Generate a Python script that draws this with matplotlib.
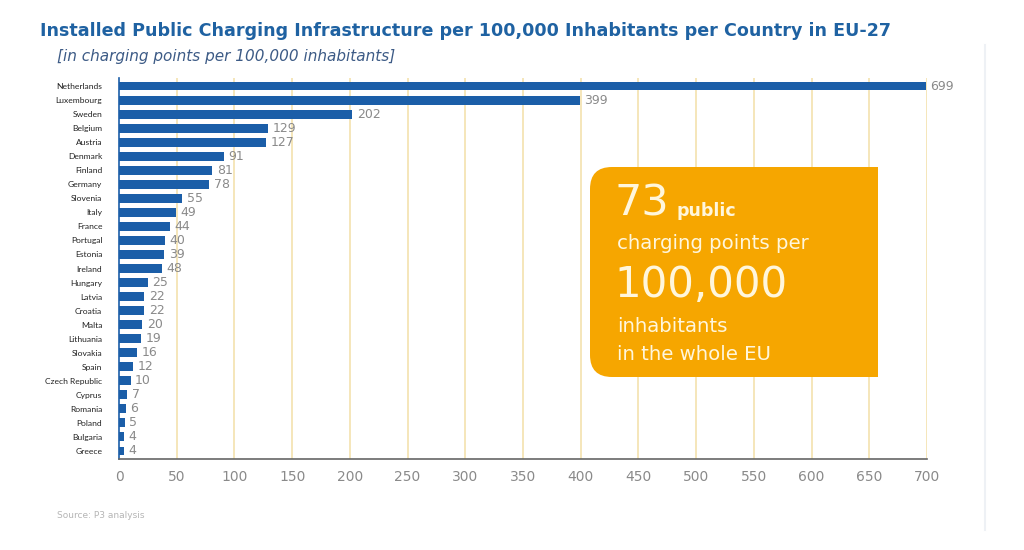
import matplotlib
matplotlib.use("Agg")
import matplotlib.pyplot as plt
from matplotlib.patches import FancyBboxPatch, Rectangle

countries = ["Netherlands", "Luxembourg", "Sweden", "Belgium", "Austria", "Denmark",
             "Finland", "Germany", "Slovenia", "Italy", "France", "Portugal", "Estonia",
             "Ireland", "Hungary", "Latvia", "Croatia", "Malta", "Lithuania", "Slovakia",
             "Spain", "Czech Republic", "Cyprus", "Romania", "Poland", "Bulgaria", "Greece"]
values = [699, 399, 202, 129, 127, 91, 81, 78, 55, 49, 44, 40, 39, 48, 25, 22, 22, 20,
          19, 16, 12, 10, 7, 6, 5, 4, 4]
bar_lengths = [699, 399, 202, 129, 127, 91, 81, 78, 55, 49, 44, 40, 39, 37, 25, 22, 22, 20,
               19, 16, 12, 10, 7, 6, 5, 4, 4]
xticks = list(range(0, 701, 50))

BLUE = "#1b5ea8"
ORANGE = "#f6a600"
GRID = "#f3e2ae"
W, H = 1024, 550

plt.rcParams['font.family'] = ['Lato', 'DejaVu Sans']

fig = plt.figure(figsize=(W / 100, H / 100), dpi=100)
fig.patch.set_facecolor("white")


def fx(px):
    return px / W


def fy(py):
    return 1 - py / H


ax = fig.add_axes([fx(119), fy(459), (927 - 119) / W, (459 - 78) / H])
ypos = list(range(len(countries)))
ax.barh(ypos, bar_lengths, height=0.64, color=BLUE, zorder=3)
for y, v, b in zip(ypos, values, bar_lengths):
    ax.text(b + 4, y, str(v), va="center", ha="left", fontsize=9, color="#8a8a8a", zorder=4,
            family="DejaVu Sans")

ax.set_xlim(0, 700)
ax.set_ylim(len(countries) - 0.43, -0.57)
ax.set_yticks(ypos)
ax.set_yticklabels(countries, fontsize=6.1, color="#222222")
ax.set_xticks(xticks)
ax.set_xticklabels([str(t) for t in xticks], fontsize=10, color="#8a8a8a", family="DejaVu Sans")
ax.tick_params(axis="y", length=0, pad=12)
ax.tick_params(axis="x", length=0, pad=8)
for t in xticks[1:]:
    ax.axvline(t, color=GRID, lw=1.2, zorder=1)
for s in ["top", "right"]:
    ax.spines[s].set_visible(False)
ax.spines["left"].set_color(BLUE)
ax.spines["left"].set_linewidth(1.2)
ax.spines["bottom"].set_color("#666666")
ax.spines["bottom"].set_linewidth(1.2)

fig.text(fx(40), fy(31), "Installed Public Charging Infrastructure per 100,000 Inhabitants per Country in EU-27",
         fontsize=12.6, fontweight="bold", color="#1f62a2", va="center", ha="left", family="DejaVu Sans")
fig.text(fx(57), fy(56), "[in charging points per 100,000 inhabitants]",
         fontsize=11, style="italic", color="#3d5b86", va="center", ha="left", family="DejaVu Sans")
fig.text(fx(57), fy(515), "Source: P3 analysis", fontsize=6.5, color="#b5b5b5", va="center", ha="left",
         family="DejaVu Sans")

# highlight box
bx0, bx1, by0, by1 = 590, 878, 167, 377
r = 22
fig.patches.append(FancyBboxPatch((fx(bx0 + r), fy(by1 - r)), fx(bx1 - bx0 - 2 * r), (by1 - by0 - 2 * r) / H,
                                  boxstyle="round,pad=%f" % (r / W), transform=fig.transFigure,
                                  facecolor=ORANGE, edgecolor="none", zorder=5, mutation_aspect=W / H))
fig.patches.append(Rectangle((fx(bx0 + 60), fy(by1)), fx(bx1 - bx0 - 60), (by1 - by0) / H,
                             transform=fig.transFigure, facecolor=ORANGE, edgecolor="none", zorder=5))

TXT = "#fff6dc"
box_font = "DejaVu Sans"
fig.text(fx(614), fy(204), "73", fontsize=31, color=TXT, va="center", ha="left", zorder=6, family=box_font)
fig.text(fx(677), fy(211), "public", fontsize=12.5, fontweight="bold", color=TXT, va="center", ha="left",
         zorder=6, family=box_font)
fig.text(fx(617), fy(243), "charging points per", fontsize=14.2, color=TXT, va="center", ha="left",
         zorder=6, family=box_font)
fig.text(fx(614), fy(285), "100,000", fontsize=30.2, color=TXT, va="center", ha="left", zorder=6,
         family=box_font)
fig.text(fx(617), fy(326), "inhabitants", fontsize=14.2, color=TXT, va="center", ha="left", zorder=6,
         family=box_font)
fig.text(fx(617), fy(354), "in the whole EU", fontsize=14.2, color=TXT, va="center", ha="left", zorder=6,
         family=box_font)

fig.add_artist(plt.Line2D([fx(985), fx(985)], [fy(45), fy(530)], color="#eef1f5", lw=1.5))

fig.savefig("out.png", dpi=100)
